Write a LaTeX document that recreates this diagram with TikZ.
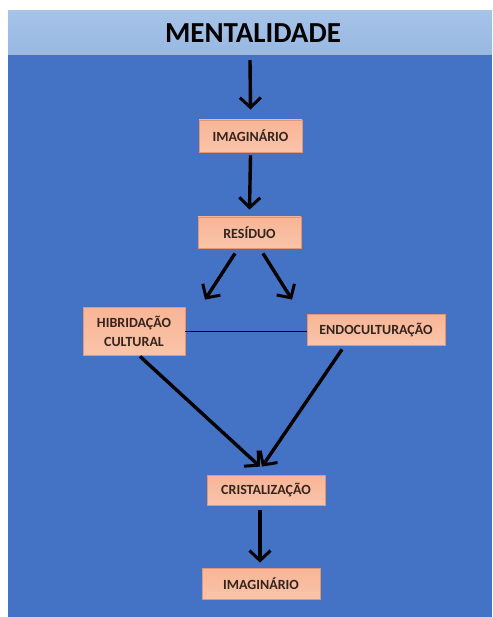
\documentclass[tikz,border=0pt]{standalone}
\usepackage{fontspec}
\setmainfont{Carlito}
\usepackage{tikz}
\usetikzlibrary{arrows.meta, calc}
\definecolor{fundo}{RGB}{68,114,196}
\definecolor{faixa}{RGB}{166,195,232}
\definecolor{faixaesc}{RGB}{152,184,226}
\definecolor{caixa}{RGB}{248,181,150}
\definecolor{caixaclara}{RGB}{250,196,170}
\definecolor{borda}{RGB}{226,150,118}
\definecolor{letra}{RGB}{52,36,28}
\tikzset{
  seta/.style={
    -{Straight Barb[length=10pt, width=21pt, line width=3pt]},
    line width=3.4pt,
    color=black
  },
  ligacao/.style={
    -,
    line width=0.9pt,
    color=black
  },
  caixa/.style={
    rectangle,
    top color=caixa,
    bottom color=caixaclara,
    draw=borda,
    line width=0.8pt,
    text=letra,
    font=\fontsize{14}{17}\selectfont\bfseries,
    align=center,
    inner sep=0pt
  },
  faixa titulo/.style={
    rectangle,
    top color=faixa,
    bottom color=faixaesc,
    draw=none,
    font=\fontsize{29}{32}\selectfont\bfseries,
    text=black,
    inner sep=0pt
  }
}

\begin{document}
\begin{tikzpicture}[x=1pt, y=-1pt]
    % moldura da figura
    \useasboundingbox (0, 0) rectangle (492, 617);
    \fill[white] (0, 0) rectangle (492, 617);
    \fill[fundo] (8, 55) rectangle (492, 617);

    % faixa do titulo
    \node[faixa titulo, minimum width=484pt, minimum height=44pt] (titulo) at (250, 33) {\hspace*{6pt}MENTALIDADE};
    \draw[faixaesc!60!black, line width=0.6pt] (titulo.south west) -- (titulo.south east);

    % caixas
    \node[caixa, minimum width=103pt, minimum height=32pt] (imag) at (250.5, 136) {IMAGINÁRIO};
    \node[caixa, minimum width=103pt, minimum height=31pt] (res) at (249.5, 232.5) {RESÍDUO};
    \node[caixa, minimum width=102pt, minimum height=48pt] (hib) at (134, 331) {HIBRIDAÇÃO\\[2pt]CULTURAL};
    \node[caixa, minimum width=138pt, minimum height=31pt] (endo) at (376, 329.5) {ENDOCULTURAÇÃO};
    \node[caixa, minimum width=118pt, minimum height=30pt] (cris) at (266, 490) {CRISTALIZAÇÃO};
    \node[caixa, minimum width=118pt, minimum height=31pt] (imagfim) at (261, 583.5) {IMAGINÁRIO};

    % setas
    \draw[seta] ([shift={(0,5)}]titulo.south) -- ([shift={(0,-10)}]imag.north);
    \draw[seta] ([shift={(0,3)}]imag.south) -- ([shift={(0,-7)}]res.north);
    \draw[seta] ([shift={(-14.5,5)}]res.south) -- ([shift={(71,-7)}]hib.north);
    \draw[seta] ([shift={(13.5,5)}]res.south) -- ([shift={(-84,-14)}]endo.north);
    \draw[ligacao] (hib.east) -- (hib.east -| endo.west);
    \draw[seta] ([shift={(6,1)}]hib.south) -- ([shift={(-6,-8)}]cris.north);
    \draw[seta] ([shift={(-34,4)}]endo.south) -- ([shift={(-4,-8)}]cris.north);
    \draw[seta] ([shift={(-6,5)}]cris.south) -- ([shift={(-1,-5)}]imagfim.north);

  \end{tikzpicture}
\end{document}
